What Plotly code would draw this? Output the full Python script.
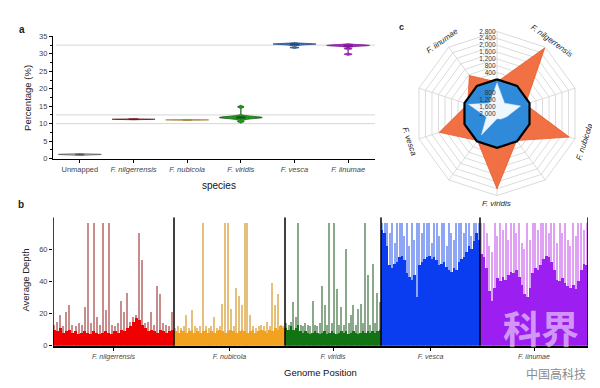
import plotly.graph_objects as go
import math

# ---------------- data ----------------
species = ["F. nilgerrensis", "F. nubicola", "F. viridis", "F. vesca", "F. iinumae"]
categories_a = ["Unmapped"] + species

# panel a: mapping percentage samples per category
pct_unmapped = [1.0, 1.1, 1.15, 1.2, 1.2, 1.25]
pct_nil = [11.2, 11.25, 11.25, 11.3]
pct_nub = [11.0, 11.05, 11.1, 11.1]
pct_vir = [10.6, 11.2, 11.5, 11.6, 11.7, 11.7, 11.8, 11.8, 11.9, 12.0, 12.2, 14.8]
pct_ves = [31.8, 32.5, 32.7, 32.8, 32.8, 32.8, 32.9, 33.0]
pct_iin = [29.9, 31.5, 32.2, 32.3, 32.4, 32.4, 32.5, 32.5, 32.6]
ref_lines_a = [10, 12.5, 32.5]
yticks_a = [0, 5, 10, 15, 20, 25, 30, 35]

# panel b: genome sizes (Mb) and windowed depth (mean and max per window)
genome_size = [242, 222, 192, 198, 216]
depth_nil = [10, 9, 11, 8, 9, 10, 8, 9, 7, 8, 9, 8, 7, 9, 8, 7, 8, 9, 8, 7,
             9, 8, 10, 9, 11, 12, 15, 17, 16, 13, 11, 9, 10, 9, 8, 10, 9, 8, 9, 10]
peak_nil = [13, 15, 19, 12, 21, 25, 13, 12, 14, 13, 24, 76, 14, 76, 18, 13, 76, 22, 76, 13,
            12, 14, 28, 21, 33, 15, 18, 19, 70, 53, 14, 15, 21, 13, 37, 32, 14, 13, 12, 21]
depth_nub = [9, 8, 10, 9, 8, 9, 10, 8, 9, 8, 9, 10, 8, 9, 8, 9, 10, 9, 8, 9,
             10, 9, 8, 9, 10, 9, 8, 9, 10, 8, 9, 10, 9, 8, 10, 9, 11, 10, 12, 11]
peak_nub = [11, 12, 11, 12, 19, 11, 22, 12, 11, 12, 76, 12, 11, 12, 18, 11, 12, 26, 76, 76,
            23, 12, 36, 31, 25, 76, 76, 19, 12, 11, 12, 13, 12, 15, 12, 39, 25, 32, 13, 12]
depth_vir = [11, 10, 12, 10, 11, 13, 9, 8, 9, 8, 7, 8, 9, 8, 7, 8, 9, 7, 8, 9,
             8, 7, 8, 9, 8, 9, 7, 8, 9, 8, 7, 8, 9, 8, 9, 8, 9, 8, 9, 10]
peak_vir = [14, 13, 15, 27, 18, 76, 13, 12, 14, 13, 12, 28, 13, 12, 14, 37, 25, 13, 76, 14,
            76, 35, 13, 24, 13, 60, 14, 19, 25, 13, 23, 26, 14, 76, 44, 13, 51, 14, 33, 27]
depth_ves = [72, 70, 62, 50, 48, 51, 52, 55, 56, 53, 45, 43, 41, 44, 30, 50, 52, 54, 55, 56,
             54, 55, 53, 50, 51, 52, 49, 47, 46, 48, 47, 52, 54, 55, 58, 62, 60, 65, 70, 66]
peak_ves = [76, 76, 76, 70, 76, 64, 76, 76, 76, 68, 76, 62, 76, 66, 76, 76, 70, 76, 76, 76,
            64, 76, 76, 68, 76, 76, 62, 76, 70, 66, 76, 76, 76, 70, 76, 76, 68, 76, 76, 76]
depth_iin = [57, 55, 48, 34, 28, 36, 42, 40, 43, 41, 44, 46, 45, 47, 43, 38, 32, 30, 36, 45,
             48, 47, 50, 54, 56, 55, 52, 47, 41, 40, 42, 39, 37, 36, 38, 35, 40, 47, 51, 50]
peak_iin = [76, 76, 70, 62, 58, 76, 68, 76, 72, 76, 66, 76, 76, 70, 76, 64, 60, 76, 66, 76,
            76, 72, 76, 76, 76, 70, 76, 76, 64, 76, 70, 76, 66, 62, 76, 68, 76, 76, 72, 76]
yticks_b = [0, 20, 40, 60]

# panel c: radar (10 spokes, species on alternate spokes)
radar_axes = ["s0", "F. nilgerrensis", "s1", "F. nubicola", "s2", "F. viridis",
              "s3", "F. vesca", "s4", "F. iinumae"]
radar_orange = [-150, 2750, -250, 2450, -50, 2400, -50, 1550, -200, 750]
radar_blue = [0, 0, 0, 0, 0, 0, 0, 0, 0, 0]
radar_white = [-200, -1250, -550, -1400, -1600, -1700, -450, -1350, -250, -1250]
radar_ticks = [-2000, -1600, -1200, -800, -400, 0, 400, 800, 1200, 1600, 2000, 2400, 2800]

# ---------------- figure ----------------
W, H = 600, 388
FONT = "Arial, Liberation Sans, sans-serif"
fig = go.Figure()

# ---- panel a: violins
violin_specs = [
    ("Unmapped", pct_unmapped, "#d9d9d9", "#555555", 0.08),
    ("F. nilgerrensis", pct_nil, "#8b2a2a", "#6b1a1a", 0.05),
    ("F. nubicola", pct_nub, "#d8b060", "#a88a40", 0.05),
    ("F. viridis", pct_vir, "#1f9a1f", "#145a14", 0.22),
    ("F. vesca", pct_ves, "#3d7fd0", "#24487a", 0.12),
    ("F. iinumae", pct_iin, "#b424d8", "#7a1a90", 0.16),
]
for name, samples, fill, line, bw in violin_specs:
    fig.add_trace(go.Violin(
        x=[name] * len(samples), y=samples, name=name,
        fillcolor=fill, line=dict(color=line, width=0.8), opacity=1,
        width=0.8, bandwidth=bw, scalemode="width", points=False,
        box=dict(visible=True, width=0.2, fillcolor=line, line=dict(color=line, width=0.8)),
        spanmode="soft", xaxis="x", yaxis="y", showlegend=False, hoverinfo="skip"))

# ---- panel b: depth bars
depths = [depth_nil, depth_nub, depth_vir, depth_ves, depth_iin]
peaks = [peak_nil, peak_nub, peak_vir, peak_ves, peak_iin]
bar_cols = ["#f00000", "#f2a21e", "#127312", "#0a3cf0", "#9d1ef0"]
peak_cols = ["#c88c8c", "#e6c07a", "#8aa88a", "#8ea6f4", "#e0a0f4"]
offset = 0
centers = []
bounds = [0]
for sp, d, p, c, pc, g in zip(species, depths, peaks, bar_cols, peak_cols, genome_size):
    n = len(d)
    w = g / n
    xs = [offset + (j + 0.5) * w for j in range(n)]
    fig.add_trace(go.Bar(x=xs, y=p, width=w * 0.45, marker=dict(color=pc, line=dict(width=0)),
                         xaxis="x2", yaxis="y2", showlegend=False, hoverinfo="skip"))
    fig.add_trace(go.Bar(x=xs, y=d, width=w * 1.01, marker=dict(color=c, line=dict(width=0)),
                         xaxis="x2", yaxis="y2", showlegend=False, hoverinfo="skip"))
    centers.append(offset + g / 2)
    offset += g
    bounds.append(offset)
total = offset

shapes = []
for v in ref_lines_a:
    shapes.append(dict(type="line", xref="x domain", yref="y", x0=0.01, x1=1, y0=v, y1=v,
                       line=dict(color="#d6d6d6", width=1), layer="below"))
for b in bounds:
    shapes.append(dict(type="line", xref="x2", yref="y2", x0=b, x1=b, y0=0, y1=80,
                       line=dict(color="black", width=1.5)))

# ---- panel c: radar
theta = radar_axes + [radar_axes[0]]
fig.add_trace(go.Scatterpolar(r=radar_orange + [radar_orange[0]], theta=theta, mode="lines",
                              fill="toself", fillcolor="rgba(240,100,52,0.92)",
                              line=dict(color="rgba(230,90,45,1)", width=0.8),
                              showlegend=False, hoverinfo="skip"))
fig.add_trace(go.Scatterpolar(r=radar_blue + [radar_blue[0]], theta=theta, mode="lines",
                              fill="toself", fillcolor="rgba(30,140,230,0.92)",
                              line=dict(color="black", width=2.2),
                              showlegend=False, hoverinfo="skip"))
fig.add_trace(go.Scatterpolar(r=radar_white + [radar_white[0]], theta=theta, mode="lines",
                              fill="toself", fillcolor="rgba(245,250,255,0.97)",
                              line=dict(color="rgba(220,235,250,1)", width=0.5),
                              showlegend=False, hoverinfo="skip"))

def fmt(v):
    if v in (0, -400):
        return ""
    return f"{abs(v):,}"

pol_dom_x = [0.675, 0.955]
pol_dom_y = [0.5155, 0.9485]

# ---- annotations
ann = []
def A(text, x, y, size=8, color="#222", angle=0, bold=False, italic=False, family=FONT, **kw):
    t = text
    if italic:
        t = f"<i>{t}</i>"
    if bold:
        t = f"<b>{t}</b>"
    ann.append(dict(text=t, x=x / W, y=1 - y / H, xref="paper", yref="paper", showarrow=False,
                    textangle=angle, font=dict(size=size, color=color, family=family),
                    xanchor="center", yanchor="middle", **kw))

A("a", 14, 18, size=10, bold=True)
A("b", 13, 197, size=10, bold=True)
A("c", 393, 15, size=9, bold=True)
A("Percentage (%)", 20, 88, size=9.5, angle=-90)
A("species", 211, 178, size=10, color="#111")
A("Average Depth", 18, 275, size=9.5, angle=-90)
A("Genome Position", 312, 369, size=9.5, color="#111")

cx = (pol_dom_x[0] + pol_dom_x[1]) / 2 * W
cy = (1 - (pol_dom_y[0] + pol_dom_y[1]) / 2) * H
R_lab = 92
for k, name in enumerate(radar_axes):
    if name.startswith("s"):
        continue
    th = k * 360 / len(radar_axes)
    ang = th if th <= 90 or th >= 270 else th - 180
    if ang >= 270:
        ang -= 360
    A(name, cx + R_lab * math.sin(math.radians(th)), cy - R_lab * math.cos(math.radians(th)),
      size=8, italic=True, angle=ang, color="#222")

# watermark text seen on the reference
A("科界", 533, 322, size=38, bold=True, color="rgba(255,255,255,0.55)", family="Noto Sans CJK SC")
A("中国高科技", 548, 370, size=12, color="#8a8a8a", family="Noto Sans CJK SC")

tickfont = dict(size=7.5, color="#444", family=FONT)
fig.update_layout(
    width=W, height=H, margin=dict(l=0, r=0, t=0, b=0),
    paper_bgcolor="white", plot_bgcolor="white",
    font=dict(family=FONT),
    violinmode="overlay", violingap=0, barmode="overlay", bargap=0,
    shapes=shapes, annotations=ann,
    xaxis=dict(domain=[45 / W, 367 / W], anchor="y", type="category",
               categoryorder="array", categoryarray=categories_a, range=[-0.5, 5.5],
               tickvals=categories_a,
               ticktext=["Unmapped"] + [f"<i>{s}</i>" for s in species],
               showline=True, linecolor="black", linewidth=1.2, ticks="outside",
               ticklen=3, tickcolor="black", showgrid=False, tickfont=tickfont),
    yaxis=dict(domain=[1 - 150 / H, 1 - 25 / H], anchor="x", range=[0, 35],
               tickvals=yticks_a, showline=True, linecolor="black", linewidth=1.2,
               ticks="outside", ticklen=3, tickcolor="black", showgrid=False, zeroline=False,
               minor=dict(ticks="outside", dtick=2.5, ticklen=2, tickcolor="black"),
               tickfont=tickfont),
    xaxis2=dict(domain=[45 / W, 580 / W], anchor="y2", range=[0, total],
                tickvals=centers, ticktext=[f"<i>{s}</i>" for s in species],
                showline=True, linecolor="black", linewidth=1.5, ticks="outside",
                ticklen=3, tickcolor="black", showgrid=False, zeroline=False,
                tickfont=dict(size=7, color="#444", family=FONT)),
    yaxis2=dict(domain=[1 - 341.7 / H, 1 - 210 / H], anchor="x2", range=[0, 80],
                tickvals=yticks_b, showline=False, ticks="outside", ticklen=3,
                tickcolor="black", showgrid=False, zeroline=False, tickfont=tickfont),
    polar=dict(
        domain=dict(x=pol_dom_x, y=pol_dom_y), gridshape="linear", bgcolor="white",
        radialaxis=dict(range=[-2000, 2800], tickvals=radar_ticks,
                        ticktext=[fmt(v) for v in radar_ticks], angle=90, tickangle=90,
                        side="counterclockwise",
                        showline=False, ticks="", gridcolor="#dcdcdc", gridwidth=0.8,
                        tickfont=dict(size=6.5, color="#333", family=FONT),
                        layer="above traces"),
        angularaxis=dict(rotation=90, direction="clockwise", showticklabels=False,
                         ticks="", gridcolor="#dcdcdc", linecolor="#d0d0d0", linewidth=0.8,
                         categoryorder="array", categoryarray=radar_axes),
    ),
)

fig.write_html("out.html")
